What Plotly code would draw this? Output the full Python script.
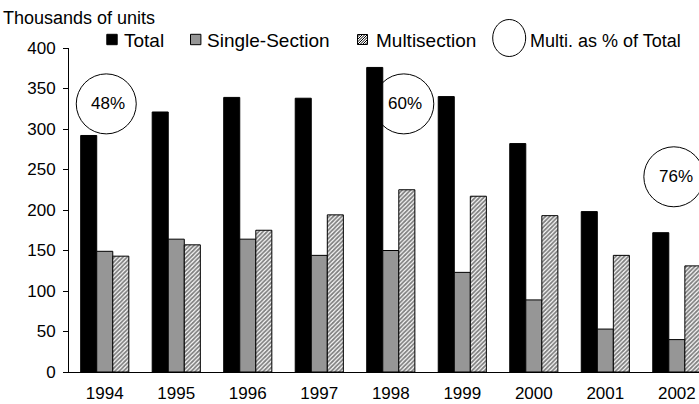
import plotly.graph_objects as go

# ---- data ----
years = ["1994", "1995", "1996", "1997", "1998", "1999", "2000", "2001", "2002"]
total = [292, 321, 339, 338, 376, 340, 282, 198, 172]
single_section = [149, 164, 164, 144, 150, 123, 89, 53, 40]
multisection = [143, 157, 175, 194, 225, 217, 193, 144, 131]
pct_years = ["1994", "1998", "2002"]
pct_labels = ["48%", "60%", "76%"]
y_ticks = [0, 50, 100, 150, 200, 250, 300, 350, 400]

# ---- layout constants (pixel geometry) ----
W, H = 699, 404
L, R, T, B = 69, 0, 48, 32
PW, PH = W - L - R, H - T - B
FONT = "Liberation Sans, Arial, sans-serif"

def xp(px):
    return (px - L) / PW

def yp(py):
    return (H - B - py) / PH

fig = go.Figure()
fig.add_trace(go.Bar(x=years, y=total, name="Total",
                     marker=dict(color="black", line=dict(color="black", width=1))))
fig.add_trace(go.Bar(x=years, y=single_section, name="Single-Section",
                     marker=dict(color="#969696", line=dict(color="black", width=1))))
fig.add_trace(go.Bar(x=years, y=multisection, name="Multisection",
                     marker=dict(color="white", line=dict(color="black", width=1),
                                 pattern=dict(shape="/", fgcolor="black", bgcolor="white",
                                              size=3, solidity=0.6))))

shapes = []
annotations = []

# percentage circles (placement: category, value-level centre, pixel x-offset)
circle_place = [(0, 331, 1.5, 3), (4, 331, 13, 14.5), (8, 241, -3, -1)]
for yr, lab, (idx, yc, dx, tdx) in zip(pct_years, pct_labels, circle_place):
    ci = years.index(yr)
    shapes.append(dict(type="circle", xref="x", yref="y", xsizemode="pixel", ysizemode="pixel",
                       xanchor=ci, yanchor=yc, x0=dx - 30, x1=dx + 30, y0=-30, y1=30,
                       line=dict(color="black", width=1), layer="above"))
    annotations.append(dict(x=ci, y=yc, xref="x", yref="y", text=lab, showarrow=False,
                            xshift=tdx, font=dict(family=FONT, size=17, color="black")))

# axis title
annotations.append(dict(x=xp(1), y=yp(18.5), xref="paper", yref="paper", xanchor="left",
                        yanchor="middle", text="Thousands of units", showarrow=False,
                        font=dict(family=FONT, size=18, color="black")))

# custom legend
LY = 39.5
s = 5.2
shapes.append(dict(type="rect", xref="paper", yref="paper", xsizemode="pixel", ysizemode="pixel",
                   xanchor=xp(112), yanchor=yp(LY), x0=-s, x1=s, y0=-s, y1=s,
                   fillcolor="black", line=dict(color="black", width=1)))
shapes.append(dict(type="rect", xref="paper", yref="paper", xsizemode="pixel", ysizemode="pixel",
                   xanchor=xp(195.7), yanchor=yp(LY), x0=-s, x1=s, y0=-s, y1=s,
                   fillcolor="#969696", line=dict(color="black", width=1)))
hatch = ("M-5,-5 L5,-5 L5,5 L-5,5 Z M-5,2.5 L-2.5,5 M-5,0 L0,5 M-5,-2.5 L2.5,5 "
         "M-5,-5 L5,5 M-2.5,-5 L5,2.5 M0,-5 L5,0 M2.5,-5 L5,-2.5")
shapes.append(dict(type="path", xref="paper", yref="paper", xsizemode="pixel", ysizemode="pixel",
                   xanchor=xp(362.5), yanchor=yp(LY), path=hatch,
                   fillcolor="white", line=dict(color="black", width=1)))
shapes.append(dict(type="circle", xref="paper", yref="paper", xsizemode="pixel", ysizemode="pixel",
                   xanchor=xp(509.2), yanchor=yp(38), x0=-16.5, x1=16.5, y0=-18.5, y1=18.5,
                   line=dict(color="black", width=1)))

legend_items = [("Total", 121.5, 19), ("Single-Section", 204.5, 19), ("Multisection", 373.5, 19),
                ("Multi. as % of Total", 528, 18)]
for txt, px, fs in legend_items:
    annotations.append(dict(x=xp(px), y=yp(40.5), xref="paper", yref="paper", xanchor="left",
                            yanchor="middle", text=txt, showarrow=False,
                            font=dict(family=FONT, size=fs, color="black")))

fig.update_layout(
    width=W, height=H,
    margin=dict(l=L, r=R, t=T, b=B, pad=0),
    paper_bgcolor="white", plot_bgcolor="white",
    showlegend=False,
    barmode="group", bargap=0.327, bargroupgap=0,
    font=dict(family=FONT, color="black"),
    shapes=shapes, annotations=annotations,
    xaxis=dict(type="category", range=[-0.5, 8.31], showline=True, linecolor="black",
               linewidth=1, ticks="", showgrid=False, zeroline=False, automargin=False,
               tickfont=dict(family=FONT, size=17, color="black"), ticklabelstandoff=6),
    yaxis=dict(range=[0, 400], tickvals=y_ticks, showline=True, linecolor="black", linewidth=1,
               ticks="outside", ticklen=5, tickcolor="black", showgrid=False, zeroline=False,
               automargin=False,
               tickfont=dict(family=FONT, size=17, color="black"), ticklabelstandoff=4),
)

fig.write_html("out.html", config={"displayModeBar": False},
               post_script="document.body.style.margin='0';document.body.style.overflow='hidden';")
